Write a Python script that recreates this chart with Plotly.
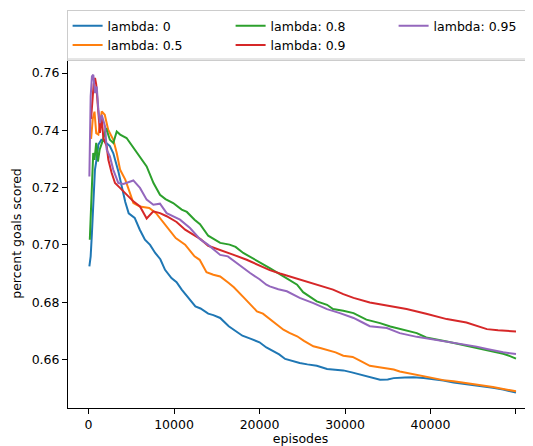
import plotly.graph_objects as go

# ---- data ----
x_l0 = [100, 250, 400, 550, 750, 950, 1150, 1500, 1900, 2500, 2900, 3500, 4000, 4300, 4700,
        5400, 6000, 6600, 7200, 7800, 8400, 8950, 9700, 10300, 10900, 11700, 12500, 13100,
        14000, 14600, 15400, 16400, 17200, 18000, 19000, 20000, 20800, 21500, 22300, 23000,
        23800, 24700, 25600, 26700, 27900, 28800, 29800, 30800, 31800, 33000, 34100, 35000,
        35700, 37000, 38000, 39200, 40300, 41500, 42700, 44000, 45000, 46000, 47300, 48500, 50000]
y_l0 = [0.6925, 0.6960, 0.7042, 0.7158, 0.7262, 0.7300, 0.7350, 0.7367, 0.7361, 0.7345, 0.7320,
        0.7255, 0.7190, 0.7150, 0.7110, 0.7094, 0.7053, 0.7018, 0.7000, 0.6972, 0.6950, 0.6913,
        0.6884, 0.6870, 0.6844, 0.6815, 0.6785, 0.6778, 0.6760, 0.6755, 0.6745, 0.6716, 0.6700,
        0.6683, 0.6672, 0.6660, 0.6642, 0.6632, 0.6618, 0.6602, 0.6595, 0.6588, 0.6583, 0.6578,
        0.6567, 0.6565, 0.6562, 0.6555, 0.6547, 0.6538, 0.6529, 0.6530, 0.6535, 0.6537, 0.6538,
        0.6535, 0.6532, 0.6527, 0.6520, 0.6515, 0.6512, 0.6508, 0.6501, 0.6495, 0.6485]

x_l05 = [300, 500, 700, 900, 1150, 1400, 1550, 1900, 2300, 2900, 3300, 3700, 4300, 4850, 5250,
         6000, 7100, 7900, 8700, 9500, 10200, 11300, 12400, 13000, 13800, 14600, 15400, 16400,
         17000, 18200, 19000, 19700, 20400, 21300, 22000, 22800, 23500, 24400, 25200, 26300,
         27100, 27900, 28900, 29800, 30900, 31800, 32900, 34000, 34900, 35700, 36400, 37400,
         38400, 39400, 40300, 41500, 42700, 44000, 45000, 46200, 47300, 48500, 50000]
y_l05 = [0.7370, 0.7440, 0.7465, 0.7390, 0.7385, 0.7445, 0.7466, 0.7454, 0.7402, 0.7367, 0.7321,
         0.7262, 0.7228, 0.7181, 0.7146, 0.7134, 0.7129, 0.7111, 0.7080, 0.7047, 0.7024, 0.7001,
         0.6960, 0.6948, 0.6905, 0.6896, 0.6890, 0.6867, 0.6852, 0.6815, 0.6790, 0.6768, 0.6760,
         0.6739, 0.6722, 0.6704, 0.6693, 0.6681, 0.6665, 0.6646, 0.6640, 0.6634, 0.6625, 0.6613,
         0.6609, 0.6595, 0.6578, 0.6573, 0.6570, 0.6565, 0.6558, 0.6552, 0.6547, 0.6540, 0.6533,
         0.6528, 0.6524, 0.6519, 0.6514, 0.6510, 0.6504, 0.6497, 0.6489]

x_l08 = [150, 300, 400, 550, 700, 900, 1100, 1300, 1700, 2050, 2500, 2900, 3300, 3700, 4450,
         5250, 6000, 6800, 7600, 8360, 9000, 9900, 10900, 11500, 12400, 13040, 14000, 15400,
         16500, 17200, 18100, 19700, 21200, 22800, 23400, 24400, 25100, 25900, 26700, 27900,
         28600, 29800, 31000, 32500, 34100, 35300, 36400, 38400, 39500, 40500, 41900, 43000,
         44200, 45400, 46600, 47600, 48500, 49300, 50000]
y_l08 = [0.7018, 0.7150, 0.7216, 0.7321, 0.7297, 0.7356, 0.7291, 0.7332, 0.7367, 0.7408, 0.7367,
         0.7356, 0.7396, 0.7385, 0.7373, 0.7338, 0.7309, 0.7274, 0.7216, 0.7175, 0.7160, 0.7146,
         0.7123, 0.7115, 0.7088, 0.7072, 0.7032, 0.7007, 0.7001, 0.6993, 0.6972, 0.6946, 0.6919,
         0.6890, 0.6878, 0.6861, 0.6835, 0.6820, 0.6803, 0.6791, 0.6776, 0.6770, 0.6762, 0.6739,
         0.6727, 0.6715, 0.6706, 0.6692, 0.6677, 0.6672, 0.6663, 0.6656, 0.6648, 0.6641, 0.6634,
         0.6627, 0.6620, 0.6612, 0.6603]

x_l09 = [300, 450, 600, 760, 900, 1000, 1150, 1340, 1540, 1730, 2130, 2320, 2710, 3100, 3680,
         4470, 5240, 6020, 6800, 7580, 8360, 9140, 10300, 11300, 12400, 13100, 14000, 15400,
         16900, 18500, 20100, 21200, 22400, 23500, 24700, 26300, 27500, 28600, 29800, 31000,
         32900, 34900, 37200, 39500, 40800, 41900, 44200, 45500, 46600, 47900, 49000, 50000]
y_l09 = [0.7440, 0.7500, 0.7560, 0.7583, 0.7560, 0.7520, 0.7472, 0.7391, 0.7449, 0.7373, 0.7344,
         0.7297, 0.7251, 0.7216, 0.7199, 0.7175, 0.7152, 0.7134, 0.7092, 0.7117, 0.7111, 0.7100,
         0.7080, 0.7053, 0.7032, 0.7020, 0.6997, 0.6983, 0.6966, 0.6948, 0.6925, 0.6912, 0.6900,
         0.6890, 0.6879, 0.6867, 0.6856, 0.6844, 0.6828, 0.6815, 0.6799, 0.6788, 0.6776, 0.6760,
         0.6750, 0.6741, 0.6729, 0.6718, 0.6706, 0.6702, 0.6699, 0.6698]

x_l095 = [100, 250, 400, 560, 760, 960, 1150, 1340, 1540, 1930, 2130, 2500, 2900, 3490, 4080,
          4850, 5240, 6020, 6800, 7580, 8360, 9140, 10700, 11870, 13040, 14000, 15400, 16300,
          17100, 18900, 20000, 20800, 21200, 22200, 23200, 24000, 24700, 26300, 27900, 29400,
          31000, 32000, 32900, 34900, 36400, 38400, 39900, 41900, 44200, 45400, 46600, 48500, 50000]
y_l095 = [0.7239, 0.7518, 0.7588, 0.7594, 0.7530, 0.7553, 0.7472, 0.7425, 0.7454, 0.7414, 0.7332,
          0.7309, 0.7262, 0.7216, 0.7213, 0.7222, 0.7225, 0.7199, 0.7158, 0.7140, 0.7144, 0.7111,
          0.7088, 0.7059, 0.7020, 0.7000, 0.6965, 0.6960, 0.6942, 0.6902, 0.6880, 0.6861, 0.6855,
          0.6845, 0.6838, 0.6825, 0.6815, 0.6797, 0.6776, 0.6762, 0.6745, 0.6730, 0.6716, 0.6710,
          0.6692, 0.6679, 0.6672, 0.6663, 0.6652, 0.6645, 0.6637, 0.6625, 0.6619]

names = ["lambda: 0", "lambda: 0.5", "lambda: 0.8", "lambda: 0.9", "lambda: 0.95"]
colors = ["#1f77b4", "#ff7f0e", "#2ca02c", "#d62728", "#9467bd"]
legend_ranks = [1, 4, 2, 5, 3]  # matplotlib ncol=3 fills column-wise

x_ticks = [0, 10000, 20000, 30000, 40000, 50000]
y_ticks = [0.66, 0.68, 0.70, 0.72, 0.74, 0.76]

FONT = "DejaVu Sans"
FS = 12.5

fig = go.Figure()
series = [(x_l0, y_l0), (x_l05, y_l05), (x_l08, y_l08), (x_l09, y_l09), (x_l095, y_l095)]
for (xs, ys), nm, c, r in zip(series, names, colors, legend_ranks):
    fig.add_trace(go.Scatter(x=xs, y=ys, mode="lines", name=nm,
                             line=dict(color=c, width=2), legendrank=r))

# page body has an 8px margin: the figure is sized/offset to compensate
fig.update_layout(
    width=525, height=438,
    margin=dict(l=60, r=0, t=51, b=38, autoexpand=False),
    plot_bgcolor="white", paper_bgcolor="white",
    font=dict(family=FONT, size=FS, color="black"),
    showlegend=True,
    legend=dict(orientation="h", x=-0.003, xanchor="left", y=1.140, yanchor="top",
                bgcolor="rgba(255,255,255,0.8)", bordercolor="#cccccc", borderwidth=1,
                entrywidth=118, entrywidthmode="pixels",
                font=dict(family=FONT, size=FS, color="black"),
                itemwidth=30, tracegroupgap=0),
    xaxis=dict(range=[-2400, 51990], tickvals=x_ticks, ticktext=[str(v) for v in x_ticks],
               showgrid=False, zeroline=False, showline=True, linecolor="black", linewidth=1,
               ticks="outside", ticklen=5, tickwidth=1, tickcolor="black",
               title=dict(text="episodes", standoff=7, font=dict(family=FONT, size=FS)),
               automargin=False),
    yaxis=dict(range=[0.64307, 0.76489], tickvals=y_ticks,
               ticktext=["%.2f" % v for v in y_ticks],
               showgrid=False, zeroline=False, showline=True, linecolor="black", linewidth=1,
               ticks="outside", ticklen=5, tickwidth=1, tickcolor="black",
               title=dict(text="percent goals scored", standoff=7, font=dict(family=FONT, size=FS)),
               automargin=False),
    shapes=[dict(type="line", xref="paper", yref="paper", x0=0, x1=1, y0=1, y1=1,
                 line=dict(color="black", width=1))],
)

fig.write_html("out.html")
